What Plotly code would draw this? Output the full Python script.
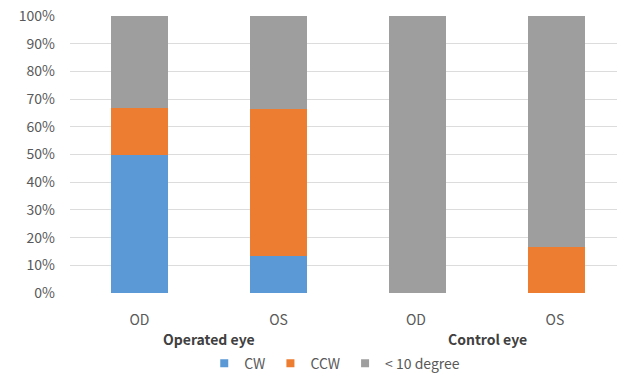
import plotly.graph_objects as go

# Category labels and group labels
eyes = ["OD", "OS", "OD ", "OS "]
groups = ["Operated eye", "Control eye"]

# Percentage of eyes in each rotation class
cw = [50.0, 13.3, 0.0, 0.0]
ccw = [16.7, 53.3, 0.0, 16.7]
under10 = [33.3, 33.4, 100.0, 83.3]

series = [
    ("CW", cw, "#5a99d6"),
    ("CCW", ccw, "#ed7d31"),
    ("< 10 degree", under10, "#9e9e9e"),
]

fig = go.Figure()
for name, vals, color in series:
    fig.add_trace(go.Bar(
        x=eyes, y=vals, name=name,
        marker=dict(color=color, line=dict(width=0)),
        width=0.41,
        showlegend=False,
    ))

# Small square legend keys
for name, vals, color in series:
    fig.add_trace(go.Scatter(
        x=[None], y=[None], name=name, mode="markers",
        marker=dict(symbol="square", size=8, color=color),
        showlegend=True,
    ))

font_family = "Noto Sans CJK KR, Noto Sans, sans-serif"

fig.update_layout(
    barmode="stack",
    width=617, height=375,
    margin=dict(l=70, r=0, t=16, b=82, autoexpand=False),
    paper_bgcolor="white",
    plot_bgcolor="white",
    font=dict(family=font_family, size=14, color="#595959"),
    showlegend=True,
    legend=dict(
        orientation="h",
        x=0.484, xref="paper", xanchor="center",
        y=-0.255, yanchor="middle",
        font=dict(size=14, color="#595959"),
        itemwidth=30,
        tracegroupgap=0,
        traceorder="normal",
    ),
    xaxis=dict(
        type="category",
        range=[-0.5, 3.435],
        showgrid=False,
        showline=False,
        ticks="",
        tickfont=dict(size=14, color="#595959"),
        ticklabelstandoff=17,
        fixedrange=True,
    ),
    yaxis=dict(
        range=[0, 100],
        tickvals=list(range(0, 101, 10)),
        ticktext=[f"{v}%" for v in range(0, 101, 10)],
        showgrid=True,
        gridcolor="#dcdcdc",
        gridwidth=1,
        zeroline=False,
        showline=False,
        ticks="",
        tickfont=dict(size=14, color="#595959"),
        ticklabelstandoff=14,
        fixedrange=True,
    ),
)

# Group labels centred under each pair of bars
for i, g in enumerate(groups):
    fig.add_annotation(
        x=2 * i + 0.5, xref="x",
        y=-0.165, yref="paper",
        text=f"<b>{g}</b>",
        showarrow=False,
        font=dict(size=14, color="#404040", family=font_family),
        xanchor="center", yanchor="middle",
    )

fig.write_html("out.html")
